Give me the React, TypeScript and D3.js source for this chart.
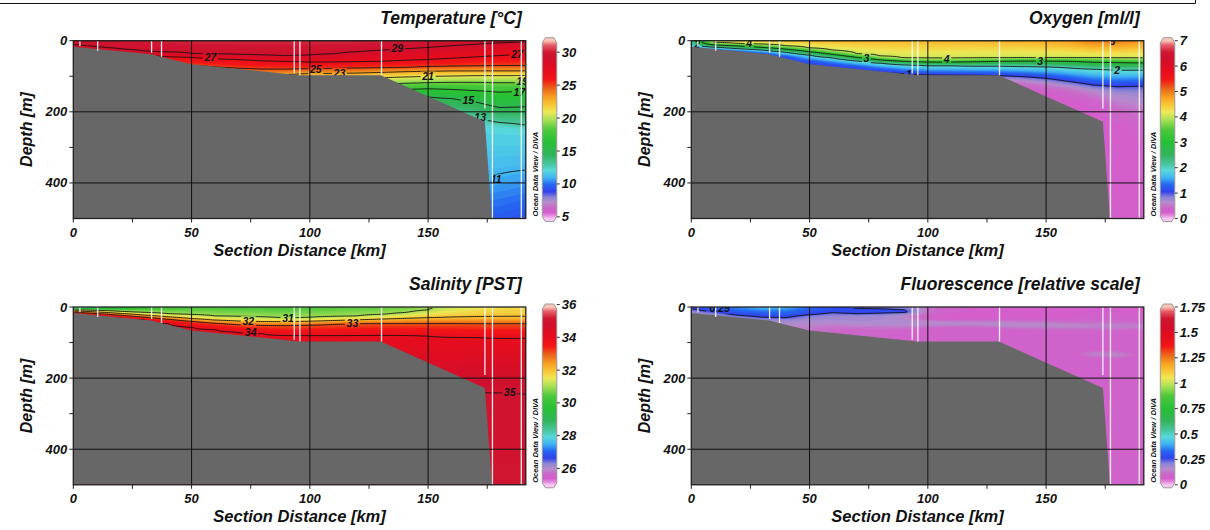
import React, { useMemo } from "react";
import * as d3 from "d3";

const X_MAX = 191.3;
const Z_MAX = 500;
const PLOT_W = 452.5;
const PLOT_H = 177.8;
const FONT = "'Liberation Sans', Arial, Helvetica, sans-serif";

// section geometry (km along section, m depth)
const distanceKm = [0, 10, 20, 30, 40, 50, 60, 70, 80, 90, 100, 110, 120, 130, 140, 150, 160, 170, 180, 191];
const seafloorKm = [0, 33, 37, 50, 95.5, 130, 174, 177];
const seafloorM = [17, 38, 45, 66, 97, 97, 228, 500];
const stationKm = [2.8, 10.3, 33.1, 37.3, 93.4, 95.8, 130.3, 174, 177.2, 189.4];
const stationM = [15, 28, 34, 45, 92, 97, 97, 191, 500, 500];

const xTicks = [0, 50, 100, 150];
const xMinor = [25, 75, 125, 175];
const zTicks = [0, 200, 400];
const zMinor = [100, 300];

// temperature: surface value, isotherm depths per station, value at 500 m
const tempSurface = [29.7, 29.9, 30.1, 30.2, 30.3, 30.4, 30.4, 30.4, 30.4, 30.4, 30.4, 30.4, 30.4, 30.3, 30.2, 30.0, 29.8, 29.6, 29.4, 29.2];
const tempLevels = [29, 27, 25, 23, 21, 19, 17, 15, 13, 12, 11];
const tempContours = [29, 27, 25, 23, 21, 19, 17, 15, 13, 11];
const tempDepths = [
  [12, 18, 24, 30, 33, 36, 38, 40, 41, 42, 41, 37, 31, 27, 23, 19, 14, 10, 6, 3],
  [28, 32, 37, 41, 44, 47, 50, 53, 56, 58, 60, 60, 59, 58, 56, 53, 50, 46, 42, 38],
  [45, 50, 55, 60, 65, 70, 74, 78, 80, 80, 79, 78, 77, 76, 75, 73, 72, 71, 70, 70],
  [60, 65, 70, 75, 80, 85, 90, 94, 96, 95, 92, 92, 91, 89, 87, 86, 85, 85, 85, 85],
  [80, 85, 90, 95, 100, 104, 108, 110, 112, 112, 110, 108, 106, 104, 102, 100, 99, 98, 98, 98],
  [100, 105, 110, 115, 120, 124, 127, 129, 130, 130, 128, 126, 124, 122, 120, 118, 117, 117, 118, 118],
  [120, 125, 130, 135, 140, 144, 147, 149, 150, 150, 148, 145, 142, 139, 137, 135, 137, 140, 144, 142],
  [150, 155, 160, 165, 170, 173, 175, 176, 176, 175, 172, 168, 165, 162, 160, 158, 162, 172, 188, 186],
  [220, 222, 224, 226, 228, 230, 230, 230, 230, 228, 226, 224, 222, 220, 218, 216, 216, 218, 230, 237],
  [246, 246, 246, 246, 246, 246, 246, 246, 246, 246, 246, 246, 246, 246, 246, 244, 242, 240, 246, 252],
  [395, 395, 395, 395, 395, 395, 395, 395, 395, 395, 395, 395, 395, 395, 395, 395, 395, 392, 375, 364],
];
const tempDeep = [9.5, 9.5, 9.5, 9.5, 9.5, 9.5, 9.5, 9.5, 9.5, 9.5, 9.5, 9.5, 9.5, 9.5, 9.5, 9.5, 9.5, 9.5, 9.5, 9.2];

// salinity: surface, value at 4 m (fresh surface film), isohaline depths, value at 500 m
const salSurface = [25.5, 26.0, 26.8, 28.5, 30.1, 30.3, 30.3, 30.3, 30.3, 30.3, 30.35, 30.4, 30.45, 30.5, 30.65, 30.9, 31.2, 31.45, 31.65, 31.75];
const salAt4m = [29.5, 30.0, 30.2, 30.3, null, null, null, null, null, null, null, null, null, null, null, null, null, null, null, null];
const salLevels = [31, 32, 33, 34, 35];
const salDepths = [
  [8, 10, 13, 16, 19, 22, 25, 27, 29, 31, 30, 28, 25, 22, 17, 8, null, null, null, null],
  [11, 14, 18, 23, 28, 33, 37, 40, 41, 41, 40, 38, 36, 34, 32, 30, 29, 28, 28, 28],
  [14, 18, 23, 28, 34, 40, 45, 49, 51, 52, 50, 48, 47, 46, 46, 46, 46, 47, 47, 47],
  [18, 23, 29, 35, 44, 54, 62, 70, 75, 79, 80, 80, 79, 78, 79, 81, 84, 86, 87, 87],
  [260, 260, 260, 260, 260, 260, 260, 260, 260, 260, 260, 260, 260, 260, 260, 260, 260, 238, 240, 242],
];
const salDeep = [35.08, 35.08, 35.08, 35.08, 35.08, 35.08, 35.08, 35.08, 35.08, 35.08, 35.08, 35.08, 35.08, 35.08, 35.08, 35.08, 35.08, 35.08, 35.08, 35.08];

// oxygen profiles [depth, ml/l] per station
const oxygenProfiles = [
  [[0, 2.4], [10, 2.0], [17, 1.5], [40, 1.1], [500, 1.0]],
  [[0, 4.3], [6, 4.0], [12, 3.0], [18, 2.0], [24, 1.3], [60, 1.0], [500, 0.9]],
  [[0, 4.45], [8, 4.0], [15, 3.0], [22, 2.0], [30, 1.2], [60, 1.0], [500, 0.9]],
  [[0, 4.5], [10, 4.0], [19, 3.0], [26, 2.0], [36, 1.15], [70, 1.0], [500, 0.9]],
  [[0, 4.55], [14, 4.0], [24, 3.0], [32, 2.0], [46, 1.1], [80, 1.0], [500, 0.9]],
  [[0, 4.6], [21, 4.0], [31, 3.0], [40, 2.0], [60, 1.1], [90, 0.95], [500, 0.9]],
  [[0, 4.6], [28, 4.0], [39, 3.0], [48, 2.0], [68, 1.1], [95, 0.95], [500, 0.9]],
  [[0, 4.6], [37, 4.0], [47, 3.0], [56, 2.0], [76, 1.08], [100, 0.9], [500, 0.9]],
  [[0, 4.6], [45, 4.0], [54, 3.0], [63, 2.0], [84, 1.05], [105, 0.85], [500, 0.8]],
  [[0, 4.6], [50, 4.0], [58, 3.0], [67, 2.0], [92, 1.0], [110, 0.7], [500, 0.5]],
  [[0, 4.6], [51, 4.0], [60, 3.0], [70, 2.0], [96, 1.0], [115, 0.6], [150, 0.3], [500, 0.3]],
  [[0, 4.6], [51, 4.0], [60, 3.0], [70, 2.0], [97, 1.0], [115, 0.6], [150, 0.3], [500, 0.3]],
  [[0, 4.6], [50, 4.0], [59, 3.0], [71, 2.0], [97, 1.0], [115, 0.6], [150, 0.28], [500, 0.25]],
  [[0, 4.65], [49, 4.0], [58, 3.0], [71, 2.0], [98, 1.0], [112, 0.55], [140, 0.28], [500, 0.25]],
  [[0, 4.65], [48, 4.0], [57, 3.0], [72, 2.0], [101, 1.0], [115, 0.55], [140, 0.28], [500, 0.25]],
  [[0, 4.7], [48, 4.0], [57, 3.0], [73, 2.0], [106, 1.0], [122, 0.55], [150, 0.27], [500, 0.25]],
  [[0, 4.8], [48, 4.0], [58, 3.0], [76, 2.0], [115, 1.0], [132, 0.55], [165, 0.28], [500, 0.25]],
  [[0, 5.05], [3, 4.95], [48, 4.0], [60, 3.0], [80, 2.0], [125, 1.0], [142, 0.6], [175, 0.35], [220, 0.26], [500, 0.25]],
  [[0, 5.05], [3, 4.95], [49, 4.0], [61, 3.0], [82, 2.0], [129, 1.0], [150, 0.7], [190, 0.45], [240, 0.3], [500, 0.28]],
  [[0, 4.85], [50, 4.0], [62, 3.0], [82, 2.0], [127, 1.0], [150, 0.75], [200, 0.5], [250, 0.35], [300, 0.3], [500, 0.3]],
];

// fluorescence profiles [depth, relative] per station
const fluorProfiles = [
  [[0, 0.27], [6, 0.25], [12, 0.2], [20, 0.17], [500, 0.1]],
  [[0, 0.32], [8, 0.3], [15, 0.25], [22, 0.19], [35, 0.16], [500, 0.1]],
  [[0, 0.36], [10, 0.33], [20, 0.28], [27, 0.22], [35, 0.18], [500, 0.1]],
  [[0, 0.44], [6, 0.38], [18, 0.31], [29, 0.25], [37, 0.19], [60, 0.14], [500, 0.1]],
  [[0, 0.42], [6, 0.37], [20, 0.31], [30, 0.25], [40, 0.18], [60, 0.14], [500, 0.1]],
  [[0, 0.33], [12, 0.3], [20, 0.27], [25, 0.22], [35, 0.18], [60, 0.13], [500, 0.1]],
  [[0, 0.28], [8, 0.29], [17, 0.25], [22, 0.2], [40, 0.17], [60, 0.11], [500, 0.09]],
  [[0, 0.23], [6, 0.26], [12, 0.3], [19, 0.25], [25, 0.19], [45, 0.17], [65, 0.1], [500, 0.08]],
  [[0, 0.2], [5, 0.25], [10, 0.3], [18, 0.25], [24, 0.18], [45, 0.17], [65, 0.1], [500, 0.08]],
  [[0, 0.18], [8, 0.25], [12, 0.28], [17, 0.25], [22, 0.15], [45, 0.17], [70, 0.09], [500, 0.08]],
  [[0, 0.13], [15, 0.12], [30, 0.08], [45, 0.17], [62, 0.09], [500, 0.08]],
  [[0, 0.09], [20, 0.08], [32, 0.07], [46, 0.17], [62, 0.08], [500, 0.08]],
  [[0, 0.08], [30, 0.07], [46, 0.16], [64, 0.08], [500, 0.08]],
  [[0, 0.07], [30, 0.07], [48, 0.17], [66, 0.08], [500, 0.08]],
  [[0, 0.07], [32, 0.08], [50, 0.17], [68, 0.08], [500, 0.08]],
  [[0, 0.07], [34, 0.08], [50, 0.17], [70, 0.08], [500, 0.08]],
  [[0, 0.07], [35, 0.08], [52, 0.16], [72, 0.08], [500, 0.08]],
  [[0, 0.07], [35, 0.09], [52, 0.15], [72, 0.08], [118, 0.08], [132, 0.15], [148, 0.08], [500, 0.08]],
  [[0, 0.07], [35, 0.09], [54, 0.15], [74, 0.08], [118, 0.08], [134, 0.16], [150, 0.08], [500, 0.09]],
  [[0, 0.07], [38, 0.09], [54, 0.14], [74, 0.08], [500, 0.08]],
];

// ODV-like palette, position 0..1 -> colour
const palettePos = [0, 0.015, 0.035, 0.06, 0.09, 0.12, 0.15, 0.19, 0.23, 0.27, 0.31, 0.36, 0.43, 0.5, 0.555, 0.6, 0.64, 0.68, 0.73, 0.78, 0.84, 0.9, 0.935, 0.975, 1];
const paletteCol = ["#f6c6f4", "#e690de", "#d65ccd", "#cc66c9", "#b68ccc", "#8a84d6", "#3242ec", "#2466f2", "#40b4f2", "#58d8dc", "#48c49a", "#32b45a", "#26c034", "#4ec83c", "#aae056", "#eee856", "#f8c636", "#f8a222", "#ea661a", "#f41616", "#e40c1e", "#d0102c", "#d01630", "#e65c6a", "#f8c6b6"];
const palette = d3.scaleLinear<string>().domain(palettePos).range(paletteCol).interpolate(d3.interpolateRgb).clamp(true);

type Prof = number[][];

function fromIsolines(surface, levels, depths, deep, near4?): Prof[] {
  return distanceKm.map((_, i) => {
    const nodes: number[][] = [[0, surface[i]]];
    if (near4 && near4[i] != null) nodes.push([4, near4[i]]);
    levels.forEach((lv, k) => {
      const d = depths[k][i];
      if (d != null) nodes.push([d, lv]);
    });
    nodes.push([Z_MAX, deep[i]]);
    return nodes.sort((a, b) => a[0] - b[0]);
  });
}

function profileAt(nodes: Prof, z: number) {
  if (z <= nodes[0][0]) return nodes[0][1];
  for (let k = 1; k < nodes.length; k++) {
    if (z <= nodes[k][0]) {
      const [z0, v0] = nodes[k - 1];
      const [z1, v1] = nodes[k];
      return v0 + ((v1 - v0) * (z - z0)) / (z1 - z0);
    }
  }
  return nodes[nodes.length - 1][1];
}

function fieldAt(profiles: Prof[], x: number, z: number) {
  let i = d3.bisectRight(distanceKm, x) - 1;
  i = Math.max(0, Math.min(distanceKm.length - 2, i));
  const w = Math.max(0, Math.min(1, (x - distanceKm[i]) / (distanceKm[i + 1] - distanceKm[i])));
  return (1 - w) * profileAt(profiles[i], z) + w * profileAt(profiles[i + 1], z);
}

const panels = [
  {
    id: "temp", title: "Temperature [°C]", left: 73.3, top: 40.7,
    profiles: fromIsolines(tempSurface, tempLevels, tempDepths, tempDeep),
    domain: [4.75, 31.75], levels: tempContours, barTicks: [5, 10, 15, 20, 25, 30],
    labels: [
      { km: 137, m: 22, t: "29" }, { km: 58, m: 48, t: "27" }, { km: 102.5, m: 80, t: "25" },
      { km: 112.5, m: 91, t: "23" }, { km: 150, m: 101, t: "21" }, { km: 167, m: 168, t: "15" },
      { km: 172, m: 216, t: "13" }, { km: 187.6, m: 38, t: "27" }, { km: 189.8, m: 114, t: "19" },
      { km: 188.6, m: 145, t: "17" }, { km: 178.8, m: 390, t: "11" },
    ],
  },
  {
    id: "oxy", title: "Oxygen [ml/l]", left: 691.3, top: 40.7,
    profiles: oxygenProfiles, domain: [0, 7], levels: [1, 2, 3, 4, 5],
    barTicks: [0, 1, 2, 3, 4, 5, 6, 7],
    labels: [
      { km: 24.5, m: 7, t: "4" }, { km: 74, m: 49, t: "3" }, { km: 108, m: 51, t: "4" },
      { km: 147.5, m: 57, t: "3" }, { km: 180, m: 83, t: "2" }, { km: 92, m: 94, t: "1" },
      { km: 178, m: 2, t: "5" }, { km: 2.5, m: 9, t: "2" },
    ],
  },
  {
    id: "sal", title: "Salinity [PST]", left: 73.3, top: 307,
    profiles: fromIsolines(salSurface, salLevels, salDepths, salDeep, salAt4m),
    domain: [25, 35.85], levels: salLevels, barTicks: [26, 28, 30, 32, 34, 36],
    labels: [
      { km: 90.8, m: 31, t: "31" }, { km: 74, m: 40, t: "32" }, { km: 118, m: 47, t: "33" },
      { km: 75, m: 72, t: "34" }, { km: 184.5, m: 241, t: "35" },
    ],
  },
  {
    id: "fluo", title: "Fluorescence [relative scale]", left: 691.3, top: 307,
    profiles: fluorProfiles, domain: [0, 1.75], levels: [0.25],
    barTicks: [0, 0.25, 0.5, 0.75, 1, 1.25, 1.5, 1.75],
    labels: [{ km: 12, m: 5, t: "0.25" }],
  },
];

const textStyle = { fontFamily: FONT, fontWeight: "bold", fontStyle: "italic" } as const;

function Section({ p }) {
  const { id, left, top, domain, levels, labels, profiles } = p;
  const right = left + PLOT_W;
  const bottom = top + PLOT_H;
  const x = d3.scaleLinear().domain([0, X_MAX]).range([left, right]);
  const y = d3.scaleLinear().domain([0, Z_MAX]).range([top, bottom]);
  const [lo, hi] = domain;
  const colorOf = (v: number) => palette((v - lo) / (hi - lo));

  const { bands, lines } = useMemo(() => {
    const nx = 226;
    const ny = 90;
    const values = new Array(nx * ny);
    for (let j = 0; j < ny; j++) {
      for (let i = 0; i < nx; i++) {
        values[j * nx + i] = fieldAt(profiles, ((i + 0.5) / nx) * X_MAX, ((j + 0.5) / ny) * Z_MAX);
      }
    }
    const proj = d3.geoTransform({
      point(px, py) {
        this.stream.point(left + (px * PLOT_W) / nx, top + (py * PLOT_H) / ny);
      },
    });
    const path = d3.geoPath(proj);
    const step = (hi - lo) / 110;
    const thr = d3.range(lo + step, hi, step);
    const bands = d3
      .contours()
      .size([nx, ny])
      .thresholds(thr)(values)
      .map((c) => ({ d: path(c), fill: colorOf(c.value + step / 2) }));
    const lines = d3
      .contours()
      .size([nx, ny])
      .thresholds(levels)(values)
      .map((c) => path(c));
    return { bands, lines };
  }, [id]);

  const floorPts = seafloorKm.map((k, i) => [x(k), y(seafloorM[i])]);
  floorPts.push([x(0), y(Z_MAX)]);
  const floorPath = d3.line()(floorPts as [number, number][]) + "Z";

  const cbLeft = right + 16.5;
  const cbW = 14.5;
  const cbTop = top - 3;
  const cbBottom = bottom + 3;
  const tip = 5;
  const cbPath = `M${cbLeft},${cbTop + tip} L${cbLeft + 3},${cbTop} L${cbLeft + cbW - 3},${cbTop} L${cbLeft + cbW},${cbTop + tip}
    L${cbLeft + cbW},${cbBottom - tip} L${cbLeft + cbW - 3},${cbBottom} L${cbLeft + 3},${cbBottom} L${cbLeft},${cbBottom - tip} Z`;
  const cbY = d3.scaleLinear().domain([lo, hi]).range([bottom, top]);

  const labelW = (t: string) => t.length * 6 + 3;

  return (
    <g>
      <defs>
        <clipPath id={`clip-${id}`}>
          <rect x={left} y={top} width={PLOT_W} height={PLOT_H} />
        </clipPath>
        <clipPath id={`clipin-${id}`}>
          <rect x={left + 1} y={top + 1} width={PLOT_W - 2} height={PLOT_H - 2} />
        </clipPath>
        <mask id={`mask-${id}`} maskUnits="userSpaceOnUse" x={left} y={top} width={PLOT_W} height={PLOT_H}>
          <rect x={left} y={top} width={PLOT_W} height={PLOT_H} fill="white" />
          {labels.map((l, i) => (
            <rect key={i} x={x(l.km) - labelW(l.t) / 2} y={y(l.m) - 5} width={labelW(l.t)} height={10} fill="black" />
          ))}
        </mask>
        <linearGradient id={`grad-${id}`} gradientUnits="userSpaceOnUse" x1={0} y1={bottom} x2={0} y2={top}>
          {palettePos.map((t, i) => (
            <stop key={i} offset={t} stopColor={paletteCol[i]} />
          ))}
        </linearGradient>
      </defs>

      <text x={right - 4} y={top - 17} textAnchor="end" fontSize={17.5} fill="#111" style={textStyle}>
        {p.title}
      </text>

      <g clipPath={`url(#clip-${id})`}>
        <rect x={left} y={top} width={PLOT_W} height={PLOT_H} fill={colorOf(lo)} />
        {bands.map((b, i) => (
          <path key={i} d={b.d} fill={b.fill} />
        ))}
        <g clipPath={`url(#clipin-${id})`}>
          <g mask={`url(#mask-${id})`}>
            {lines.map((d, i) => (
              <path key={i} d={d} fill="none" stroke="#111" strokeWidth={0.9} />
            ))}
          </g>
        </g>
        {labels.map((l, i) => (
          <text key={i} x={x(l.km)} y={y(l.m)} dy="0.35em" textAnchor="middle" fontSize={10.5} fill="#111" style={textStyle}>
            {l.t}
          </text>
        ))}
        <path d={floorPath} fill="#676767" />
        {stationKm.map((k, i) => (
          <line key={i} x1={x(k)} x2={x(k)} y1={top} y2={y(stationM[i])} stroke="#ffffff" strokeWidth={1.3} strokeOpacity={0.9} />
        ))}
        {xTicks.slice(1).map((k) => (
          <line key={k} x1={x(k)} x2={x(k)} y1={top} y2={bottom} stroke="#111" strokeWidth={1} />
        ))}
        {zTicks.slice(1).map((z) => (
          <line key={z} x1={left} x2={right} y1={y(z)} y2={y(z)} stroke="#111" strokeWidth={1} />
        ))}
      </g>
      <rect x={left} y={top} width={PLOT_W} height={PLOT_H} fill="none" stroke="#222" strokeWidth={1.3} />

      {zTicks.map((z) => (
        <g key={z}>
          <line x1={left - 4} x2={left} y1={y(z)} y2={y(z)} stroke="#222" />
          <text x={left - 6} y={y(z)} dy="0.35em" textAnchor="end" fontSize={13} fill="#111" style={textStyle}>
            {z}
          </text>
        </g>
      ))}
      {zMinor.map((z) => (
        <line key={z} x1={left - 4} x2={left} y1={y(z)} y2={y(z)} stroke="#222" />
      ))}
      {xTicks.map((k) => (
        <g key={k}>
          <line x1={x(k)} x2={x(k)} y1={bottom} y2={bottom + 4} stroke="#222" />
          <text x={x(k)} y={bottom + 18.5} textAnchor="middle" fontSize={13} fill="#111" style={textStyle}>
            {k}
          </text>
        </g>
      ))}
      {xMinor.map((k) => (
        <line key={k} x1={x(k)} x2={x(k)} y1={bottom} y2={bottom + 4} stroke="#222" />
      ))}
      <text x={left + PLOT_W / 2} y={bottom + 37.5} textAnchor="middle" fontSize={16.5} fill="#111" style={textStyle}>
        Section Distance [km]
      </text>
      <text
        transform={`translate(${left - 41},${top + PLOT_H / 2}) rotate(-90)`}
        textAnchor="middle"
        fontSize={16}
        fill="#111"
        style={textStyle}
      >
        Depth [m]
      </text>

      <text
        transform={`translate(${right + 12},${bottom - 2}) rotate(-90)`}
        fontSize={7.6}
        fill="#111"
        style={textStyle}
      >
        Ocean Data View / DIVA
      </text>

      <path d={cbPath} fill={`url(#grad-${id})`} stroke="#9a9a9a" strokeWidth={1} />
      {p.barTicks.map((v) => (
        <g key={v}>
          <line x1={cbLeft + cbW} x2={cbLeft + cbW + 3} y1={cbY(v)} y2={cbY(v)} stroke="#333" />
          <text x={cbLeft + cbW + 5} y={cbY(v)} dy="0.35em" fontSize={13} fill="#111" style={textStyle}>
            {String(v)}
          </text>
        </g>
      ))}
    </g>
  );
}

export default function App() {
  return (
    <svg
      width={1210}
      height={530}
      style={{ position: "absolute", left: 0, top: 0, background: "#fff" }}
    >
      <rect x={0} y={0} width={1210} height={530} fill="#fff" />
      <line x1={0} x2={1195.5} y1={3.5} y2={3.5} stroke="#111" strokeWidth={1} />
      <line x1={1195.5} x2={1195.5} y1={0} y2={3.5} stroke="#111" strokeWidth={1} />
      {panels.map((p) => (
        <Section key={p.id} p={p} />
      ))}
    </svg>
  );
}
